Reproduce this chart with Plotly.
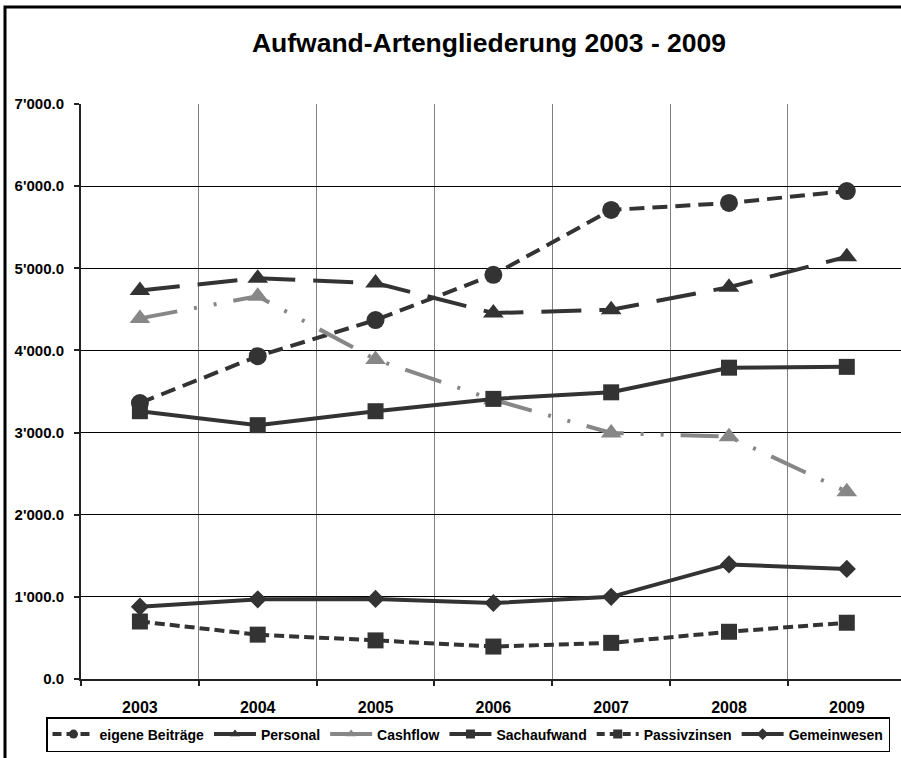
import plotly.graph_objects as go

# Jahre und Aufwandsarten (Werte in Tausend)
years = ["2003", "2004", "2005", "2006", "2007", "2008", "2009"]
eigene_beitraege = [3360, 3930, 4370, 4920, 5710, 5795, 5940]
personal = [4730, 4880, 4820, 4455, 4495, 4770, 5140]
cashflow = [4390, 4660, 3890, 3400, 2995, 2950, 2280]
sachaufwand = [3260, 3090, 3260, 3410, 3490, 3790, 3800]
passivzinsen = [700, 540, 470, 395, 440, 575, 685]
gemeinwesen = [880, 970, 975, 925, 1000, 1395, 1340]

y_ticks = [0, 1000, 2000, 3000, 4000, 5000, 6000, 7000]

DARK = "#333333"
GRAY = "#878787"
FONT = "Liberation Sans"

x_idx = list(range(len(years)))

series = [
    ("eigene Beiträge", eigene_beitraege, DARK, "15px,8px", "circle", 18),
    ("Personal", personal, DARK, "40px,18px", "triangle-up", 18),
    ("Cashflow", cashflow, GRAY, "38px,17px,3px,17px,3px,17px", "triangle-up", 18),
    ("Sachaufwand", sachaufwand, DARK, "solid", "square", 16),
    ("Passivzinsen", passivzinsen, DARK, "10px,5px", "square", 16),
    ("Gemeinwesen", gemeinwesen, DARK, "solid", "diamond", 14),
]

fig = go.Figure()
for name, vals, color, dash, symbol, msize in series:
    fig.add_trace(go.Scatter(
        x=x_idx, y=vals, name=name, mode="lines+markers",
        line=dict(color=color, width=4, dash=dash),
        marker=dict(symbol=symbol, size=msize, color=color),
        showlegend=False,
    ))

# Legendeneintraege mit kleineren Symbolen
legend_dash = {"15px,8px": "9px,5px", "10px,5px": "8px,5px",
               "38px,17px,3px,17px,3px,17px": "solid", "40px,18px": "solid"}
for name, vals, color, dash, symbol, msize in series:
    fig.add_trace(go.Scatter(
        x=[None], y=[None], name=name, mode="lines+markers",
        line=dict(color=color, width=4, dash=legend_dash.get(dash, dash)),
        marker=dict(symbol=symbol, size=9, color=color),
        showlegend=True,
    ))

# Kategoriegrenzen fuer Gitterlinien und Teilstriche
bounds = [i - 0.5 for i in range(len(years) + 1)]

fig.update_layout(
    width=901, height=758,
    margin=dict(l=81, r=0, t=104, b=79),
    paper_bgcolor="white", plot_bgcolor="white",
    separators=".'",
    font=dict(family=FONT, color="black"),
    title=dict(
        text="<b>Aufwand-Artengliederung 2003 - 2009</b>",
        x=489 / 901, xanchor="center", xref="container",
        y=1 - 43 / 758, yanchor="middle", yref="container",
        font=dict(family=FONT, size=26.5, color="black"),
    ),
    xaxis=dict(
        range=[-0.5, 6.46],
        tickmode="array", tickvals=x_idx,
        ticktext=[f"<b>{y}</b>" for y in years],
        ticks="", showgrid=False, zeroline=False,
        showline=True, linecolor="#222222", linewidth=2,
        tickfont=dict(family=FONT, size=16, color="black"),
        ticklabelstandoff=13,
        minor=dict(
            tickmode="array", tickvals=bounds,
            showgrid=True, gridcolor="#808080", gridwidth=1,
            ticks="outside", ticklen=5, tickcolor="#222222", tickwidth=2,
        ),
    ),
    yaxis=dict(
        range=[0, 7000],
        tickmode="array", tickvals=y_ticks,
        ticktext=[f"<b>{v:,.1f}</b>".replace(",", "'") for v in y_ticks],
        showgrid=True, gridcolor="black", gridwidth=1,
        zeroline=False,
        showline=True, linecolor="#222222", linewidth=2,
        ticks="outside", ticklen=5, tickcolor="#222222", tickwidth=2,
        tickfont=dict(family=FONT, size=15, color="black"),
        ticklabelstandoff=7,
    ),
    legend=dict(
        orientation="h",
        x=(46 - 81) / 820, xanchor="left",
        y=(679 - 717) / 575, yanchor="top",
        bgcolor="white", bordercolor="black", borderwidth=1.5,
        font=dict(family=FONT, size=14, color="black", weight="bold"),
        itemwidth=42,
        tracegroupgap=0,
    ),
    showlegend=True,
)

# Rahmen um das gesamte Diagramm
fig.add_shape(
    type="rect", xref="paper", yref="paper",
    x0=(5 - 81) / 820, x1=1.2, y0=-0.4, y1=(679 - 7) / 575,
    line=dict(color="black", width=3), fillcolor="rgba(0,0,0,0)",
)

fig.write_html("out.html")
